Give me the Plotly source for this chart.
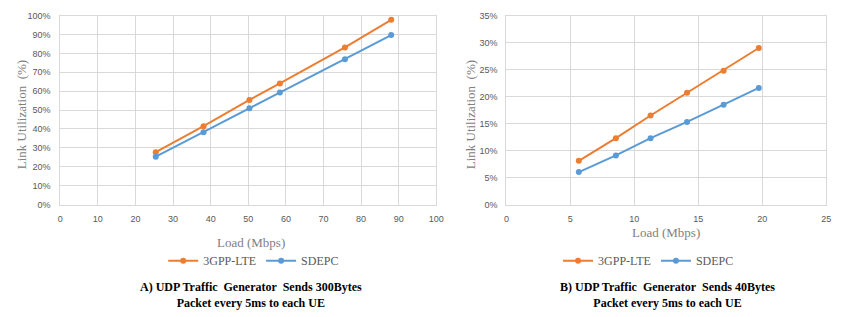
import plotly.graph_objects as go

# Chart A data
load_a = [25.4, 38.1, 50.3, 58.4, 75.7, 88.0]
lte_a = [27.7, 41.5, 55.4, 64.1, 83.2, 97.8]
sdepc_a = [25.3, 38.3, 50.9, 59.3, 76.9, 89.7]

# Chart B data
load_b = [5.66, 8.56, 11.27, 14.12, 16.98, 19.73]
lte_b = [8.1, 12.3, 16.5, 20.7, 24.8, 29.0]
sdepc_b = [6.0, 9.1, 12.3, 15.3, 18.5, 21.6]

series_names = ["3GPP-LTE", "SDEPC"]
orange = "#ED7D31"
blue = "#5B9BD5"

captions = [
    "A) UDP Traffic  Generator  Sends 300Bytes<br>Packet every 5ms to each UE",
    "B) UDP Traffic  Generator  Sends 40Bytes<br>Packet every 5ms to each UE",
]

W, H = 850, 317
fig = go.Figure()

def add(x, y, name, color, xa, ya, leg):
    fig.add_trace(go.Scatter(
        x=x, y=y, name=name, mode="lines+markers",
        line=dict(color=color, width=2),
        marker=dict(color=color, size=6, symbol="circle"),
        xaxis=xa, yaxis=ya, legend=leg,
    ))

add(load_a, lte_a, series_names[0], orange, "x", "y", "legend")
add(load_a, sdepc_a, series_names[1], blue, "x", "y", "legend")
add(load_b, lte_b, series_names[0], orange, "x2", "y2", "legend2")
add(load_b, sdepc_b, series_names[1], blue, "x2", "y2", "legend2")

grid = "#d9d9d9"
tickfont = dict(family="Liberation Sans", size=9, color="#595959")
y_dom = [1 - 206 / H, 1 - 11 / H]

common = dict(showgrid=True, gridcolor=grid, gridwidth=1, zeroline=False,
              showline=True, linecolor=grid, linewidth=1, mirror=True,
              ticks="", tickfont=tickfont, fixedrange=True)

legfont = dict(family="Liberation Serif", size=12, color="#595959")

fig.update_layout(
    width=W, height=H,
    margin=dict(l=0, r=0, t=0, b=0),
    paper_bgcolor="white", plot_bgcolor="white",
    xaxis=dict(domain=[58 / W, 439 / W], range=[0, 100], dtick=10, anchor="y",
               ticklabelstandoff=6, **common),
    yaxis=dict(domain=y_dom, range=[0, 100], dtick=10, ticksuffix="%", anchor="x",
               ticklabelstandoff=7, **common),
    xaxis2=dict(domain=[510 / W, 834 / W], range=[0, 25], dtick=5, anchor="y2",
                ticklabelstandoff=6, **common),
    yaxis2=dict(domain=y_dom, range=[0, 35], dtick=5, ticksuffix="%", anchor="x2",
                ticklabelstandoff=6, **common),
    legend=dict(orientation="h", x=254 / W, y=1 - 264 / H, xanchor="center", yanchor="middle",
                font=legfont, bgcolor="rgba(0,0,0,0)", itemwidth=30),
    legend2=dict(orientation="h", x=654 / W, y=1 - 264 / H, xanchor="center", yanchor="middle",
                 font=legfont, bgcolor="rgba(0,0,0,0)", itemwidth=30),
    showlegend=True,
)

title_font = dict(family="Liberation Serif", size=13, color="#808080")
cap_font = dict(family="Liberation Serif", size=12, color="#000000")

ann = [
    dict(text="Link Utilization  (%)", x=19 / W, y=1 - 113 / H, textangle=-90, font=title_font),
    dict(text="Link Utilization  (%)", x=474 / W, y=1 - 113 / H, textangle=-90, font=title_font),
    dict(text="Load (Mbps)", x=251 / W, y=1 - 245 / H, font=title_font),
    dict(text="Load (Mbps)", x=672 / W, y=1 - 235 / H, font=title_font),
    dict(text="<b>" + captions[0].replace("<br>", "</b><br><b>") + "</b>", x=251 / W, y=1 - 299 / H, font=cap_font),
    dict(text="<b>" + captions[1].replace("<br>", "</b><br><b>") + "</b>", x=673 / W, y=1 - 299 / H, font=cap_font),
]
for a in ann:
    fig.add_annotation(xref="paper", yref="paper", showarrow=False,
                       xanchor="center", yanchor="middle", **a)

fig.write_html("out.html")
